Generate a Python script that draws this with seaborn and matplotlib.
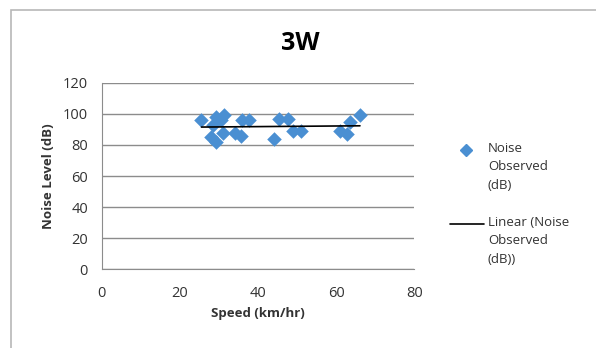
#!/usr/bin/env python3
import matplotlib
matplotlib.use("Agg")
import matplotlib.pyplot as plt
from matplotlib.lines import Line2D
from matplotlib.patches import Rectangle
import numpy as np
import pandas as pd
import seaborn as sns

speed = [25.5, 28.0, 28.5, 29.1, 29.3, 30.6, 30.9, 31.3, 34.2, 35.6,
         35.9, 37.6, 44.1, 45.4, 47.6, 49.0, 50.9, 61.0, 62.9, 63.6, 66.1]
noise = [96, 85, 93, 98, 82, 96, 88, 99, 88, 86,
         96, 96, 84, 97, 97, 89, 89, 89, 87, 95, 99]
x_ticks = [0, 20, 40, 60, 80]
y_ticks = [0, 20, 40, 60, 80, 100, 120]
legend_labels = ["Noise\nObserved\n(dB)", "Linear (Noise\nObserved\n(dB))"]

df = pd.DataFrame({"speed": speed, "noise": noise})

sns.set_style("white")
plt.rcParams["font.family"] = ["Open Sans", "DejaVu Sans"]
blue = "#4a8fd2"
grey = "#8c8c8c"
W, H = 596, 348

fig = plt.figure(figsize=(W / 100, H / 100), dpi=100)
fig.patches.append(Rectangle((11 / W, -0.1), 1.2, 1 - 10 / H + 0.1,
                             transform=fig.transFigure, fill=False,
                             edgecolor="#b8b8b8", lw=1.2))
ax = fig.add_axes([0.171, 0.226, 0.524, 0.536])

sns.scatterplot(data=df, x="speed", y="noise", marker="D", s=55,
                color=blue, edgecolor=blue, linewidth=0, ax=ax, zorder=3)

# linear trend line over the data range
k, b = np.polyfit(df["speed"], df["noise"], 1)
xs = np.array([df["speed"].min(), df["speed"].max()])
ax.plot(xs, k * xs + b, color="black", lw=1.2, zorder=4)

ax.set_xlim(0, 80)
ax.set_ylim(0, 120)
ax.set_xticks(x_ticks)
ax.set_yticks(y_ticks)
ax.yaxis.grid(True, color=grey, lw=1)
ax.set_axisbelow(True)
for s in ["top", "right"]:
    ax.spines[s].set_visible(False)
for s in ["left", "bottom"]:
    ax.spines[s].set_color(grey)
ax.tick_params(axis="both", direction="out", length=4, color=grey,
               labelsize=10.5, labelcolor="#333333", pad=6)
ax.tick_params(axis="x", pad=8)
ax.set_xlabel("Speed (km/hr)", fontsize=9.5, fontweight="bold", color="#333333", labelpad=4)
ax.set_ylabel("Noise Level (dB)", fontsize=9.5, fontweight="bold", color="#333333", labelpad=6)

fig.text(0.503, 1 - 44 / H, "3W", ha="center", va="center", fontsize=18,
         fontweight="bold", color="black")

# Excel-style legend: handle aligned with the first text line
fig.add_artist(Line2D([466 / W], [1 - 150 / H], marker="D", ls="none",
                      color=blue, markersize=6, transform=fig.transFigure))
fig.add_artist(Line2D([450 / W, 484 / W], [1 - 224 / H] * 2, color="black",
                      lw=1.2, transform=fig.transFigure))
for lab, y in zip(legend_labels, [150, 224]):
    fig.text(488 / W, 1 - (y - 8) / H, lab, ha="left", va="top", fontsize=9.5,
             color="#333333", linespacing=1.55)

fig.savefig("out.png", dpi=100)
